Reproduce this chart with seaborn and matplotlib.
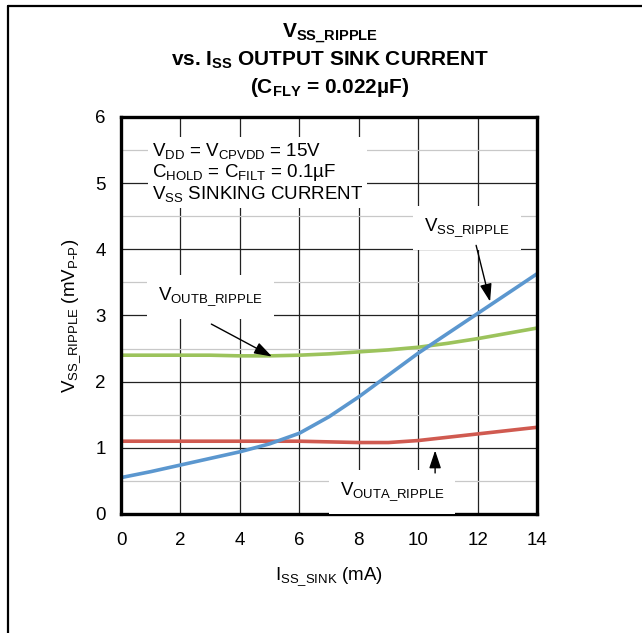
import matplotlib
matplotlib.use("Agg")
import matplotlib.pyplot as plt
import seaborn as sns
import pandas as pd
from matplotlib.lines import Line2D
from matplotlib.ticker import MultipleLocator

sns.set_theme(style="white")
plt.rcParams['font.family'] = ['Liberation Sans', 'DejaVu Sans']
plt.rcParams['mathtext.default'] = 'regular'
plt.rcParams['text.color'] = 'black'
plt.rcParams['axes.labelcolor'] = 'black'
plt.rcParams['xtick.color'] = 'black'
plt.rcParams['ytick.color'] = 'black'

# Data
current_ma = [0, 1, 2, 3, 4, 5, 6, 7, 8, 9, 10, 11, 12, 13, 14]
vss_ripple = [0.55, 0.64, 0.74, 0.84, 0.94, 1.06, 1.22, 1.47, 1.77, 2.10, 2.43, 2.73, 3.03, 3.33, 3.63]
vouta_ripple = [1.10, 1.10, 1.10, 1.10, 1.10, 1.10, 1.10, 1.09, 1.08, 1.08, 1.11, 1.16, 1.21, 1.26, 1.31]
voutb_ripple = [2.40, 2.40, 2.40, 2.40, 2.39, 2.39, 2.40, 2.42, 2.45, 2.48, 2.52, 2.58, 2.65, 2.73, 2.81]

x_ticks = [0, 2, 4, 6, 8, 10, 12, 14]
y_ticks = [0, 1, 2, 3, 4, 5, 6]

colors = {"vss": "#5b97cf", "outa": "#d05a50", "outb": "#9cc35c"}

df = pd.DataFrame({
    "I": current_ma * 3,
    "V": vss_ripple + vouta_ripple + voutb_ripple,
    "series": ["vss"] * len(current_ma) + ["outa"] * len(current_ma) + ["outb"] * len(current_ma),
})

fig = plt.figure(figsize=(6.42, 6.33), dpi=100)
ax = fig.add_axes([0.1885, 0.188, 0.648, 0.6272])

sns.lineplot(data=df, x="I", y="V", hue="series", palette=colors,
             hue_order=["outb", "outa", "vss"], linewidth=2.6, legend=False, ax=ax)

ax.set_xlim(0, 14)
ax.set_ylim(0, 6)
ax.set_xticks(x_ticks)
ax.set_yticks(y_ticks)
ax.yaxis.set_minor_locator(MultipleLocator(0.5))
ax.grid(True, which='major', color='#222222', linewidth=0.9)
ax.grid(True, which='minor', axis='y', color='#c8c8c8', linewidth=0.9)
ax.set_axisbelow(True)
ax.tick_params(axis='both', which='both', length=0, labelsize=13.5, colors='black')
ax.tick_params(axis='x', pad=13)
ax.tick_params(axis='y', pad=11)
for s in ax.spines.values():
    s.set_color('black')
    s.set_linewidth(2.4)

ax.set_xlabel(r"I$_{SS\_SINK}$ (mA)", fontsize=13.5, color='black', labelpad=12)
ax.set_ylabel(r"V$_{SS\_RIPPLE}$ (mV$_{P\text{-}P}$)", fontsize=13.5, color='black', labelpad=9)

fig.text(0.514, 0.947, r"V$_{SS\_RIPPLE}$", ha='center', va='center', fontsize=15, fontweight='bold')
fig.text(0.514, 0.905, r"vs. I$_{SS}$ OUTPUT SINK CURRENT", ha='center', va='center', fontsize=15, fontweight='bold')
fig.text(0.514, 0.862, r"(C$_{FLY}$ = 0.022µF)", ha='center', va='center', fontsize=15, fontweight='bold')

wb = dict(facecolor='white', edgecolor='none', pad=3)
ax.text(1.04, 5.63, "V$_{DD}$ = V$_{CPVDD}$ = 15V\nC$_{HOLD}$ = C$_{FILT}$ = 0.1µF\nV$_{SS}$ SINKING CURRENT",
        ha='left', va='top', fontsize=13.5, linespacing=1.05, bbox=wb)

ax.text(3.0, 3.28, "V$_{OUTB\\_RIPPLE}$", ha='center', va='center', fontsize=13.5, bbox=dict(facecolor='white', edgecolor='none', pad=8))
ax.text(11.65, 4.32, "V$_{SS\\_RIPPLE}$", ha='center', va='center', fontsize=13.5, bbox=dict(facecolor='white', edgecolor='none', pad=8))
ax.text(9.12, 0.33, "V$_{OUTA\\_RIPPLE}$", ha='center', va='center', fontsize=13.5, bbox=dict(facecolor='white', edgecolor='none', pad=8))

ap = dict(arrowstyle='-|>,head_length=0.9,head_width=0.3', color='black', lw=1.0, shrinkA=0, shrinkB=0)
ax.annotate("", xy=(5.08, 2.38), xytext=(3.04, 2.87), arrowprops=ap)
ax.annotate("", xy=(12.42, 3.21), xytext=(11.95, 4.06), arrowprops=ap)
ax.annotate("", xy=(10.57, 0.96), xytext=(10.57, 0.62), arrowprops=ap)

# figure frame (top and left edges)
fig.add_artist(Line2D([8 / 642, 1.0], [1 - 6 / 633, 1 - 6 / 633], transform=fig.transFigure, color='black', lw=1.6))
fig.add_artist(Line2D([8 / 642, 8 / 642], [0.0, 1 - 6 / 633], transform=fig.transFigure, color='black', lw=1.6))

fig.savefig("out.png", dpi=100)
